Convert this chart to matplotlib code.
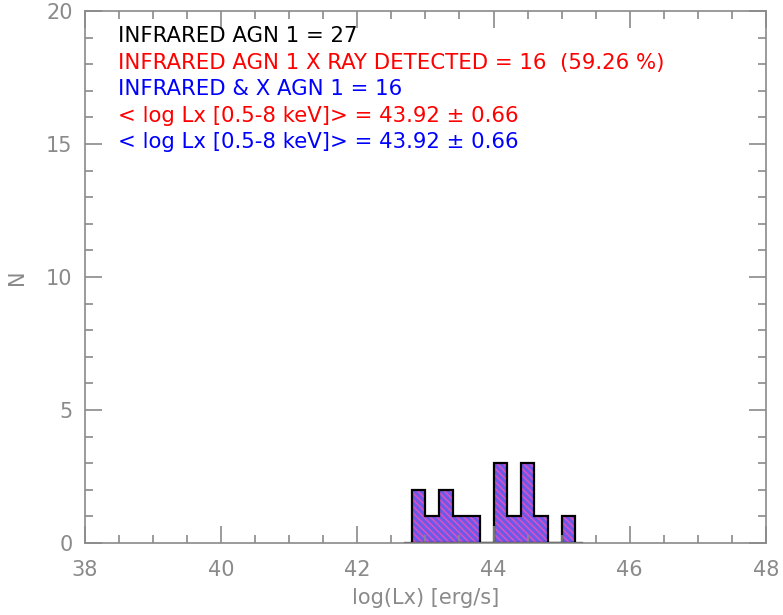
import numpy as np
import matplotlib
matplotlib.use("Agg")
import matplotlib.pyplot as plt
from matplotlib.ticker import MultipleLocator

# histogram of log(Lx), bins of 0.2 dex
bin_left = [42.8, 43.0, 43.2, 43.4, 43.6, 43.8, 44.0, 44.2, 44.4, 44.6, 44.8, 45.0]
counts = [2, 1, 2, 1, 1, 0, 3, 1, 3, 1, 0, 1]
bin_width = 0.2

lines = [
    ("INFRARED AGN 1 = 27", "black"),
    ("INFRARED AGN 1 X RAY DETECTED = 16  (59.26 %)", "red"),
    ("INFRARED & X AGN 1 = 16", "blue"),
    ("< log Lx [0.5-8 keV]> = 43.92 \u00b1 0.66", "red"),
    ("< log Lx [0.5-8 keV]> = 43.92 \u00b1 0.66", "blue"),
]

GRAY = "#8a8a8a"
plt.rcParams["hatch.linewidth"] = 1.2

fig = plt.figure(figsize=(7.83, 6.15), dpi=100)
ax = fig.add_axes([0.1086, 0.117, 0.8695, 0.865])

ax.bar(bin_left, counts, width=bin_width, align="edge",
       facecolor="#6a5ae8", edgecolor="#d850c8", hatch="\\\\\\\\\\", linewidth=0)
edges = list(bin_left) + [bin_left[-1] + bin_width]
ax.stairs(counts, edges, color="black", linewidth=1.6)
ax.plot([edges[0] - 0.1, edges[-1] + 0.1], [0, 0], color="black", linewidth=1.6)

ax.set_xlim(38, 48)
ax.set_ylim(0, 20)
ax.xaxis.set_major_locator(MultipleLocator(2))
ax.xaxis.set_minor_locator(MultipleLocator(0.5))
ax.yaxis.set_major_locator(MultipleLocator(5))
ax.yaxis.set_minor_locator(MultipleLocator(1))
ax.tick_params(which="both", direction="in", top=True, right=True,
               color=GRAY, labelcolor=GRAY, labelsize=15)
ax.tick_params(axis="x", which="both", pad=12)
ax.tick_params(axis="y", which="both", pad=9)
ax.tick_params(which="major", length=12, width=1.2)
ax.tick_params(which="minor", length=6, width=1.2)
for s in ax.spines.values():
    s.set_color(GRAY)
    s.set_linewidth(1.2)

ax.set_xlabel("log(Lx) [erg/s]", color=GRAY, fontsize=15, labelpad=6)
ax.set_ylabel("N", color=GRAY, fontsize=15, labelpad=14)

y0 = 0.972
for i, (txt, col) in enumerate(lines):
    ax.text(0.048, y0 - i * 0.05, txt, color=col, fontsize=15.3,
            transform=ax.transAxes, va="top", ha="left")

fig.savefig("out.png", dpi=100)
